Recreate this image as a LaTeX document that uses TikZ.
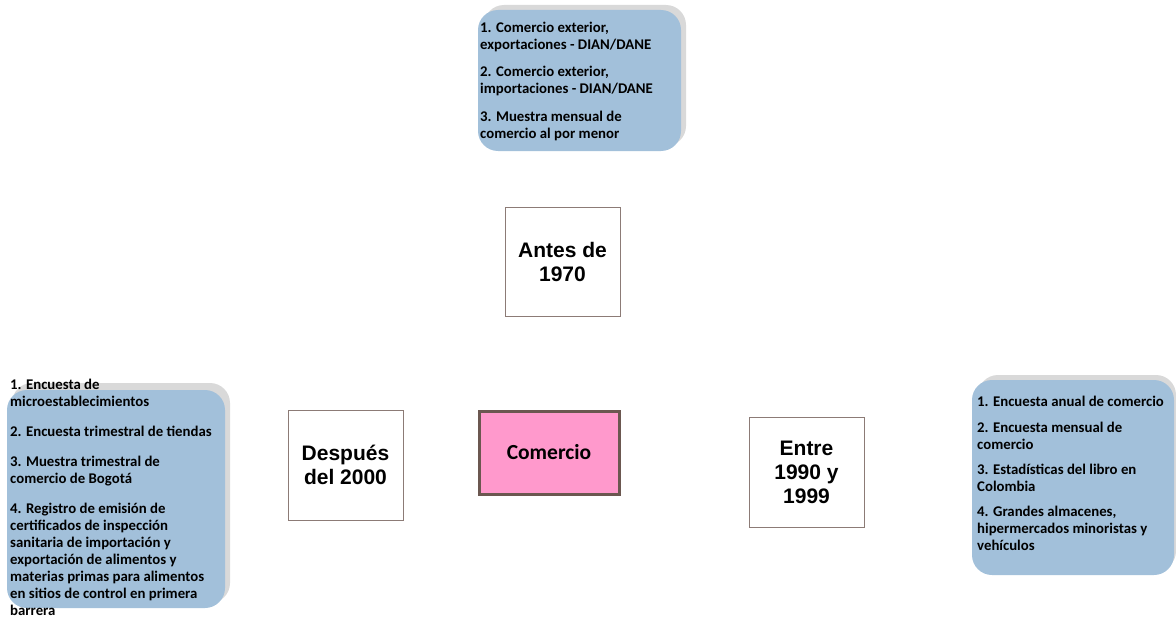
\documentclass[tikz,border=0pt]{standalone}
\usepackage{fontspec}
\setmainfont{Carlito}
\newfontfamily\arialfont{Liberation Sans}
\definecolor{boxblue}{HTML}{A2C0DA}
\definecolor{shadowgray}{HTML}{D9D9D9}
\definecolor{pinkfill}{HTML}{FF99CC}
\definecolor{darkborder}{HTML}{6B5750}
\definecolor{periodborder}{HTML}{8C7B76}
\begin{document}
\begin{tikzpicture}[x=1pt,y=-1pt,
  listtext/.style={inner sep=0pt, anchor=base west, align=left,
    font=\bfseries\fontsize{14.8}{17}\selectfont},
  panelshadow/.style={fill=shadowgray, rounded corners=20pt},
  panel/.style={fill=boxblue, rounded corners=20pt},
  period/.style={draw=periodborder, line width=1pt, fill=white,
    minimum width=115pt, minimum height=110pt, inner sep=0pt, align=center,
    font=\arialfont\bfseries\fontsize{21}{24}\selectfont},
  central/.style={draw=darkborder, line width=3pt, fill=pinkfill,
    minimum width=140pt, minimum height=83pt, inner sep=0pt,
    font=\bfseries\fontsize{21.5}{24}\selectfont}]
\useasboundingbox (0,0) rectangle (1176,618);

% top panel
\fill[panelshadow] (484,5) rectangle (686,146);
\fill[panel] (478,10) rectangle (681,151);
\node[listtext] (toptext) at (480,138.5) {1. Comercio exterior,\\ exportaciones - DIAN/DANE\\[10pt]
2. Comercio exterior,\\ importaciones - DIAN/DANE\\[11pt]
3. Muestra mensual de\\ comercio al por menor};

% left panel
\fill[panelshadow] (12,383) rectangle (230,603);
\fill[panel] (7,390) rectangle (225,608);
\node[listtext] (lefttext) at (10,615) {1. Encuesta de\\ microestablecimientos\\[13pt]
2. Encuesta trimestral de tiendas\\[13pt]
3. Muestra trimestral de\\ comercio de Bogotá\\[13pt]
4. Registro de emisión de\\ certificados de inspección\\ sanitaria de importación y\\ exportación de alimentos y\\ materias primas para alimentos\\ en sitios de control en primera\\ barrera};

% right panel
\fill[panelshadow] (978,375) rectangle (1176,571);
\fill[panel] (972,380) rectangle (1174,575);
\node[listtext] (righttext) at (977,550) {1. Encuesta anual de comercio\\[9pt]
2. Encuesta mensual de\\ comercio\\[8pt]
3. Estadísticas del libro en\\ Colombia\\[8pt]
4. Grandes almacenes,\\ hipermercados minoristas y\\ vehículos};

% period boxes
\node[period, minimum height=109pt] (antes) at (562.5,261.5) {Antes de\\1970};
\node[period] (despues) at (345.5,465) {Después\\del 2000};
\node[period] (entre) at (806.5,472) {Entre\\1990 y\\1999};
\node[central] (comercio) at (549,452.5) {Comercio};
\end{tikzpicture}
\end{document}
